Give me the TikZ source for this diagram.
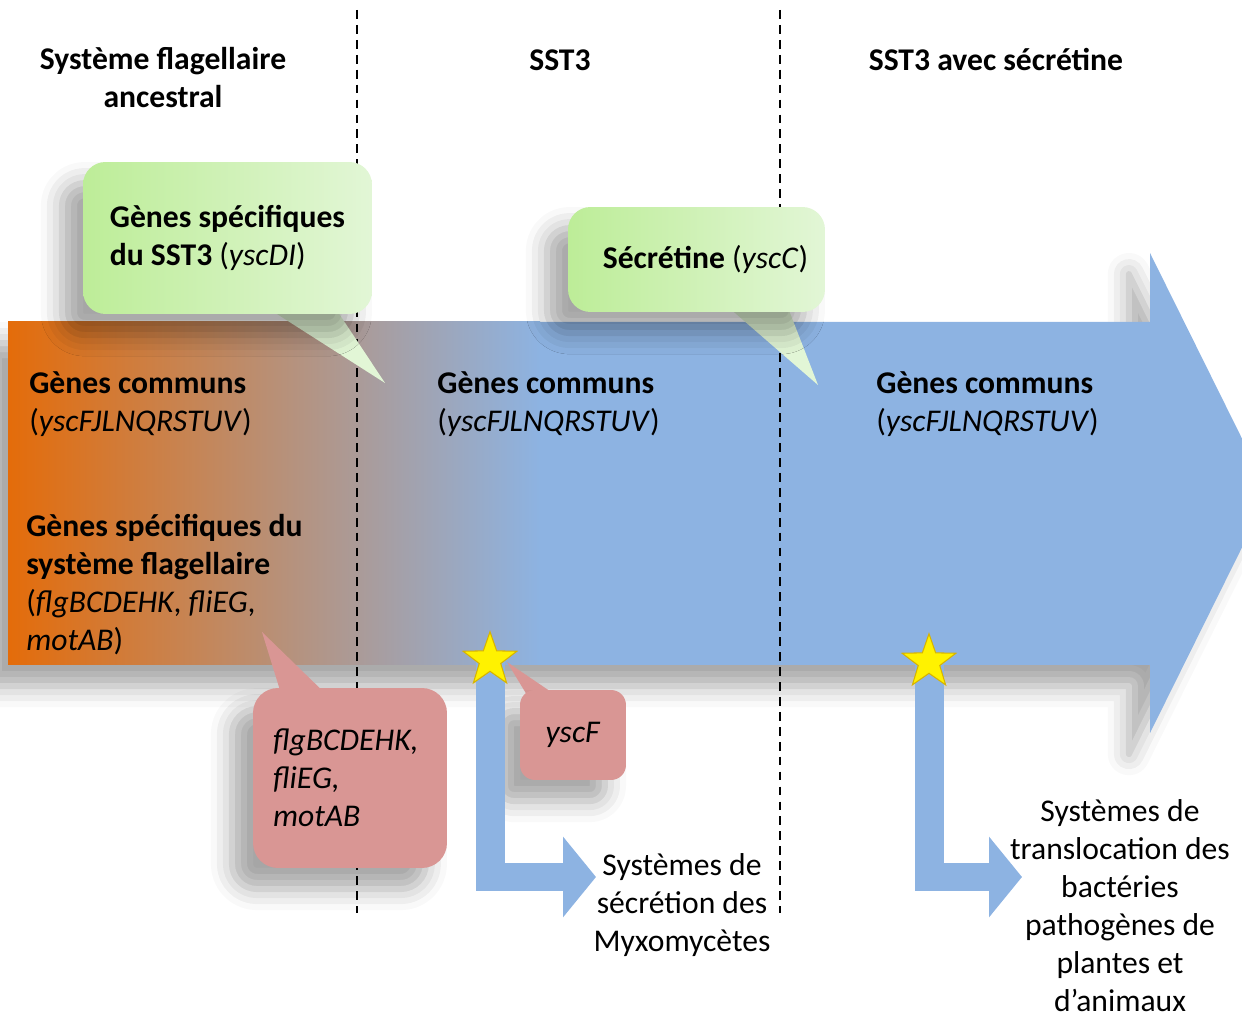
\documentclass[tikz,border=0pt]{standalone}
\usepackage{fontspec}
\setmainfont{Carlito}
\usetikzlibrary{shapes.geometric,arrows.meta,shadows.blur}

\definecolor{arrowblue}{HTML}{8DB3E2}
\definecolor{flagorange}{HTML}{E46C0A}
\definecolor{greenA}{HTML}{BDED98}
\definecolor{greenB}{HTML}{E2F6D6}
\definecolor{redcall}{HTML}{D99694}
\definecolor{starline}{HTML}{D8B400}

\tikzset{
  txt/.style={font=\fontsize{18}{21.6}\selectfont, inner sep=0pt},
  head/.style={txt, font=\fontsize{18}{21.6}\selectfont\bfseries, align=center},
  genes/.style={txt, align=left, anchor=west},
  soft/.style={blur shadow={shadow xshift=-12pt, shadow yshift=-12pt, shadow blur radius=12pt, shadow opacity=35}},
  greenbox/.style={txt, soft, rounded corners=0.45cm, left color=greenA, right color=greenB},
  redbox/.style={txt, soft, rounded corners=0.5cm, fill=redcall},
  divider/.style={black, line width=1.1pt, dash pattern=on 5pt off 3.5pt},
  branch/.style={draw=arrowblue, line width=0.58cm, -{Triangle[length=0.66cm, width=1.58cm]}},
  starshape/.style={star, star points=5, star point ratio=2.5, minimum size=1.13cm, inner sep=0pt, fill=yellow, draw=starline, line width=0.6pt},
  branchlabel/.style={txt, align=center}
}

\begin{document}
\begin{tikzpicture}[x=0.02cm, y=-0.02cm]
    \useasboundingbox (0,0) rectangle (1242,1016);
    \clip (0,0) rectangle (1242,1016);

    % Main arrow
    \path [fill=arrowblue, soft] (8,322) -- (1150,322) -- (1150,253) -- (1269,493)
      -- (1150,733) -- (1150,665) -- (8,665) -- cycle;
    \shade [left color=flagorange, right color=arrowblue] (8,322) rectangle (540,665);

    % Dividers
    \draw [divider] (357,10) -- (357,913);
    \draw [divider] (780,10) -- (780,913);

    % Headers
    \node [head] (hflag) at (163,78) {Système flagellaire\\ancestral};
    \node [head] (hsst) at (560,60) {SST3};
    \node [head] (hsec) at (996,60) {SST3 avec sécrétine};

    % Texts on the arrow
    \node [genes] (comflag) at (29,404) {\textbf{Gènes communs}\\(\textit{yscFJLNQRSTUV})};
    \node [genes] (comsst) at (437,404) {\textbf{Gènes communs}\\(\textit{yscFJLNQRSTUV})};
    \node [genes] (comsec) at (876,404) {\textbf{Gènes communs}\\(\textit{yscFJLNQRSTUV})};
    \node [genes] (specflag) at (26,585) {\textbf{Gènes spécifiques du}\\\textbf{système flagellaire}\\(\textit{flgBCDEHK}, \textit{fliEG},\\\textit{motAB})};

    % Callouts
    \path (385,383) coordinate (ptsst) (818,385) coordinate (ptsec)
          (262,632) coordinate (ptflag) (507,662) coordinate (ptyscf);
    \fill [greenB] (255,300) -- (ptsst) -- (330,300) -- cycle;
    \node [greenbox, minimum width=5.78cm, minimum height=3.04cm, align=left]
      (specsst) at (227.5,238) {\textbf{Gènes spécifiques}\\\textbf{du SST3} (\textit{yscDI})};
    \fill [greenB] (720,300) -- (ptsec) -- (785,300) -- cycle;
    \node [greenbox, minimum width=5.14cm, minimum height=2.1cm]
      (secretine) at (696.5,259.5) {\hspace*{0.36cm}\textbf{Sécrétine} (\textit{yscC})};
    \fill [redcall] (283,700) -- (ptflag) -- (332,700) -- cycle;
    \node [redbox, minimum width=3.88cm, minimum height=3.6cm, text width=3.08cm, align=left]
      (lostflag) at (350,778) {\textit{flgBCDEHK,}\\\textit{fliEG,}\\\textit{motAB}};
    \fill [redcall] (530,700) -- (ptyscf) -- (563,700) -- cycle;
    \node [redbox, rounded corners=0.3cm, minimum width=2.12cm, minimum height=1.8cm]
      (yscf) at (573,735) {\textit{yscF}};

    % Branches
    \path (490,660) coordinate (rootmyxo) (929,662) coordinate (rootpatho)
          (596,877) coordinate (tipmyxo) (1022,877) coordinate (tippatho);
    \draw [branch] (rootmyxo) |- (tipmyxo);
    \draw [branch] (rootpatho) |- (tippatho);
    \node [starshape] (starmyxo) at (rootmyxo) {};
    \node [starshape] (starpatho) at (rootpatho) {};
    \node [branchlabel] (myxo) at (682,905) {Systèmes de\\sécrétion des\\Myxomycètes};
    \node [branchlabel] (patho) at (1120,906) {Systèmes de\\translocation des\\bactéries\\pathogènes de\\plantes et\\d’animaux};
\end{tikzpicture}
\end{document}
